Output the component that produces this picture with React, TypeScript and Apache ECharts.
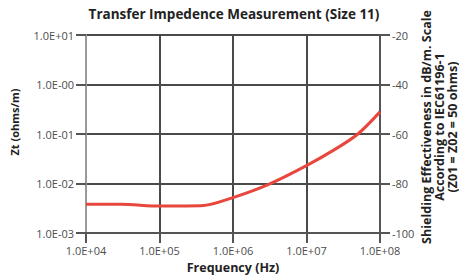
import React, { useEffect, useRef } from "react";
import * as echarts from "echarts";

const frequencies = [1e4, 3e4, 1e5, 4e5, 1e6, 3e6, 1e7, 2.5e7, 5e7, 1e8];
const impedance = [0.0038, 0.0038, 0.0035, 0.0036, 0.0052, 0.0095, 0.023, 0.05, 0.1, 0.28];
const xTickLabels: Record<number, string> = { 4: "1.0E+04", 5: "1.0E+05", 6: "1.0E+06", 7: "1.0E+07", 8: "1.0E+08" };
const yTickLabels: Record<string, string> = { "1": "1.0E+01", "0": "1.0E-00", "-1": "1.0E-01", "-2": "1.0E-02", "-3": "1.0E-03" };
const title = "Transfer Impedence Measurement (Size 11)";
const xName = "Frequency (Hz)";
const yName = "Zt (ohms/m)";
const rightName = ["Shielding Effectiveness in dB/m. Scale", "According to IEC61196-1", "(Z01 = Z02 = 50 ohms)"];

const FONT = "'Open Sans', sans-serif";

export default function App() {
  const ref = useRef<HTMLDivElement>(null);
  useEffect(() => {
    const chart = echarts.init(ref.current!, null, { renderer: "svg" });
    const lbl = { fontFamily: FONT, fontSize: 11, color: "#4d4d4d" };
    chart.setOption({
      animation: false,
      backgroundColor: "#fff",
      grid: { left: 86, right: 79, top: 35, bottom: 43 },
      xAxis: {
        type: "log",
        logBase: 10,
        min: 1e4,
        max: 1e8,
        axisLine: { show: true, lineStyle: { color: "#555", width: 2 } },
        axisTick: { show: true, length: 10, lineStyle: { color: "#555", width: 2 } },
        axisLabel: {
          ...lbl,
          margin: 12,
          formatter: (v: number) => xTickLabels[Math.round(Math.log10(v))] ?? "",
        },
        splitLine: { show: true, lineStyle: { color: "#4a4a4a", width: 2 } },
      },
      yAxis: [
        {
          type: "log",
          logBase: 10,
          min: 1e-3,
          max: 1e1,
          axisLine: { show: true, lineStyle: { color: "#999", width: 2 } },
          axisTick: { show: true, length: 10, lineStyle: { color: "#555", width: 2 } },
          axisLabel: {
            ...lbl,
            margin: 12,
            formatter: (v: number) => yTickLabels[String(Math.round(Math.log10(v)))] ?? "",
          },
          splitLine: { show: true, lineStyle: { color: "#4a4a4a", width: 2 } },
        },
        {
          type: "value",
          position: "right",
          min: -100,
          max: -20,
          interval: 20,
          axisLine: { show: true, lineStyle: { color: "#555", width: 2 } },
          axisTick: { show: true, length: 10, lineStyle: { color: "#555", width: 2 } },
          axisLabel: { ...lbl, margin: 12 },
          splitLine: { show: false },
        },
      ],
      series: [
        {
          type: "line",
          data: frequencies.map((f, i) => [f, impedance[i]]),
          showSymbol: false,
          smooth: 0.3,
          lineStyle: { color: "#e8473e", width: 3 },
          itemStyle: { color: "#e8473e" },
        },
      ],
      graphic: [
        {
          type: "text",
          x: 234,
          y: 14,
          style: { text: title, fontFamily: FONT, fontSize: 13.5, fontWeight: "bold", fill: "#222", align: "center", verticalAlign: "middle" },
        },
        {
          type: "text",
          x: 233,
          y: 267,
          style: { text: xName, fontFamily: FONT, fontSize: 12.5, fontWeight: "bold", fill: "#222", align: "center", verticalAlign: "middle" },
        },
        {
          type: "text",
          x: 14,
          y: 122,
          rotation: Math.PI / 2,
          style: { text: yName, fontFamily: FONT, fontSize: 11, fontWeight: "bold", fill: "#222", align: "center", verticalAlign: "middle" },
        },
        ...rightName.map((t, i) => ({
          type: "text",
          x: 426 + i * 13,
          y: 127,
          rotation: Math.PI / 2,
          style: { text: t, fontFamily: FONT, fontSize: 12.5, fontWeight: "bold", fill: "#222", align: "center", verticalAlign: "middle" },
        })),
      ],
    });
    return () => chart.dispose();
  }, []);
  return <div ref={ref} style={{ position: "fixed", left: 0, top: 0, width: 459, height: 276 }} />;
}
